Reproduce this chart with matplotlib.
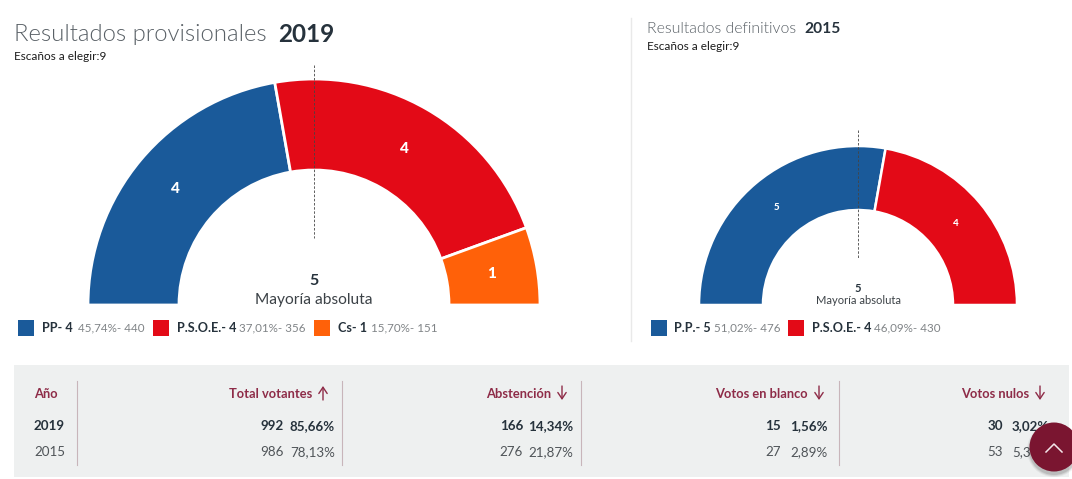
import numpy as np
import matplotlib
matplotlib.use("Agg")
import matplotlib.pyplot as plt
from matplotlib.patches import Wedge, Rectangle, Circle

plt.rcParams['font.family'] = ['Lato', 'DejaVu Sans']

# 2019 results
seats_2019 = [4, 4, 1]
parties_2019 = ["PP- 4", "P.S.O.E.- 4", "Cs- 1"]
details_2019 = ["45,74%- 440", "37,01%- 356", "15,70%- 151"]
colors_2019 = ["#1a5a9a", "#e30a17", "#ff6109"]

# 2015 results
seats_2015 = [5, 4]
parties_2015 = ["P.P.- 5", "P.S.O.E.- 4"]
details_2015 = ["51,02%- 476", "46,09%- 430"]
colors_2015 = ["#1a5a9a", "#e30a17"]

majority = 5

# Table
headers = ["Año", "Total votantes", "Abstención", "Votos en blanco", "Votos nulos"]
years = ["2019", "2015"]
counts_2019 = ["992", "166", "15", "30"]
pcts_2019 = ["85,66%", "14,34%", "1,56%", "3,02%"]
counts_2015 = ["986", "276", "27", "53"]
pcts_2015 = ["78,13%", "21,87%", "2,89%", "5,37%"]

DARK = "#26323c"
GREY = "#808487"
LIGHT = "#4f5458"
CRIMSON = "#8e2c48"

W, H = 1072, 479
fig = plt.figure(figsize=(W / 100, H / 100), dpi=100)
ax = fig.add_axes([0, 0, 1, 1])
ax.set_xlim(0, W)
ax.set_ylim(0, H)
ax.axis("off")


def Y(py):
    return H - py


def label(x, y, s, size, color=DARK, weight="normal", ha="left", zorder=5):
    return ax.text(x, Y(y), s, fontsize=size, color=color, fontweight=weight,
                   ha=ha, va="center", zorder=zorder)


def hemicycle(cx, cy, r_out, r_in, seats, colors, lw, num_size):
    total = sum(seats)
    start = 180.0
    r_mid = (r_out + r_in) / 2
    for n, c in zip(seats, colors):
        end = start - 180.0 * n / total
        ax.add_patch(Wedge((cx, Y(cy)), r_out, end, start, width=r_out - r_in,
                           facecolor=c, edgecolor="white", linewidth=lw, zorder=2))
        mid = np.radians((start + end) / 2)
        ax.text(cx + r_mid * np.cos(mid), Y(cy) + r_mid * np.sin(mid), str(n),
                color="white", fontsize=num_size, fontweight="black",
                ha="center", va="center", zorder=4)
        start = end


def legend(row_y, square_x, name_x, detail_x, parties, details, colors):
    for i in range(len(parties)):
        ax.add_patch(Rectangle((square_x[i], Y(row_y + 8)), 16, 16, facecolor=colors[i],
                               edgecolor="none", zorder=3))
        label(name_x[i], row_y, parties[i], 9.1, weight="bold")
        label(detail_x[i], row_y, details[i], 8.4, color=GREY)


# Titles
label(14, 34, "Resultados provisionales", 17.2, color="#596066", weight=300)
label(278, 34, "2019", 17.5, weight="bold")
label(14, 56, "Escaños a elegir:9", 8.5, color="#1c1c1c")
label(647, 29, "Resultados definitivos", 11.4, color="#596066", weight=300)
label(804, 29, "2015", 11.2, weight="bold")
label(647, 46, "Escaños a elegir:9", 8.5, color="#1c1c1c")

# Separator between the two charts
ax.plot([630.5, 630.5], [Y(18), Y(341)], color="#e9e9e9", lw=1, zorder=1)

# Charts
hemicycle(314, 305, 226, 135, seats_2019, colors_2019, 2.0, 11)
hemicycle(858, 305, 159, 95, seats_2015, colors_2015, 1.8, 7)

# Majority markers
ax.plot([314, 314], [Y(65), Y(238)], color="#444444", lw=0.6, ls=(0, (3, 2)), zorder=3)
ax.plot([858, 858], [Y(130), Y(258)], color="#444444", lw=0.6, ls=(0, (3, 2)), zorder=3)
label(314, 281, str(majority), 11.5, weight="bold", ha="center")
label(314, 300, "Mayoría absoluta", 11.2, color="#3c4247", ha="center")
label(858, 288, str(majority), 8, weight="bold", ha="center")
label(858, 301, "Mayoría absoluta", 8, color="#3c4247", ha="center")

# Legends
legend(328, [18, 153, 314], [42, 177, 338], [78, 239, 371],
       parties_2019, details_2019, colors_2019)
legend(328, [651, 788], [674, 812], [714, 874],
       parties_2015, details_2015, colors_2015)

# Table background
ax.add_patch(Rectangle((14, Y(477)), 1055, 112, facecolor="#eef0f0", edgecolor="none", zorder=0))
for x in [77, 342, 581, 839]:
    ax.plot([x, x], [Y(381), Y(465)], color="#c8b5ba", lw=0.8, zorder=1)

# Table text
label(34, 394, headers[0], 9.3, color=CRIMSON, weight="bold")
label(34, 426, years[0], 9.6, weight="bold")
label(34, 452, years[1], 9.6, color=LIGHT)

header_right = [312, 551, 808, 1029]
count_right = [284, 523, 781, 1003]
pct_right = [335, 573, 828, 1049]
arrow_up = [True, False, False, False]
for i in range(4):
    label(header_right[i], 394, headers[i + 1], 9.3, color=CRIMSON, weight="bold", ha="right")
    label(count_right[i], 426, counts_2019[i], 9.6, weight="bold", ha="right")
    label(pct_right[i], 426, pcts_2019[i], 9.6, weight="bold", ha="right")
    label(count_right[i], 452, counts_2015[i], 9.6, color=LIGHT, ha="right")
    label(pct_right[i], 452, pcts_2015[i], 9.6, color=LIGHT, ha="right")
    ax_x = header_right[i] + 11
    if arrow_up[i]:
        start, end = (ax_x, Y(400)), (ax_x, Y(386))
    else:
        start, end = (ax_x, Y(386)), (ax_x, Y(400))
    ax.annotate("", xy=end, xytext=start,
                arrowprops=dict(arrowstyle="->,head_length=0.45,head_width=0.3",
                                color=CRIMSON, lw=1, shrinkA=0, shrinkB=0), zorder=5)

# Scroll-to-top button
for r, a in [(27, 0.05), (26, 0.07), (25, 0.1)]:
    ax.add_patch(Circle((1054, Y(450)), r, facecolor="#000000", alpha=a, edgecolor="none", zorder=6))
ax.add_patch(Circle((1054, Y(447)), 24.5, facecolor="#7a1530", edgecolor="none", zorder=7))
ax.plot([1046, 1054, 1062], [Y(452), Y(444), Y(452)], color="#f3e6ea", lw=1.1, zorder=8)

fig.savefig("out.png", dpi=100)
